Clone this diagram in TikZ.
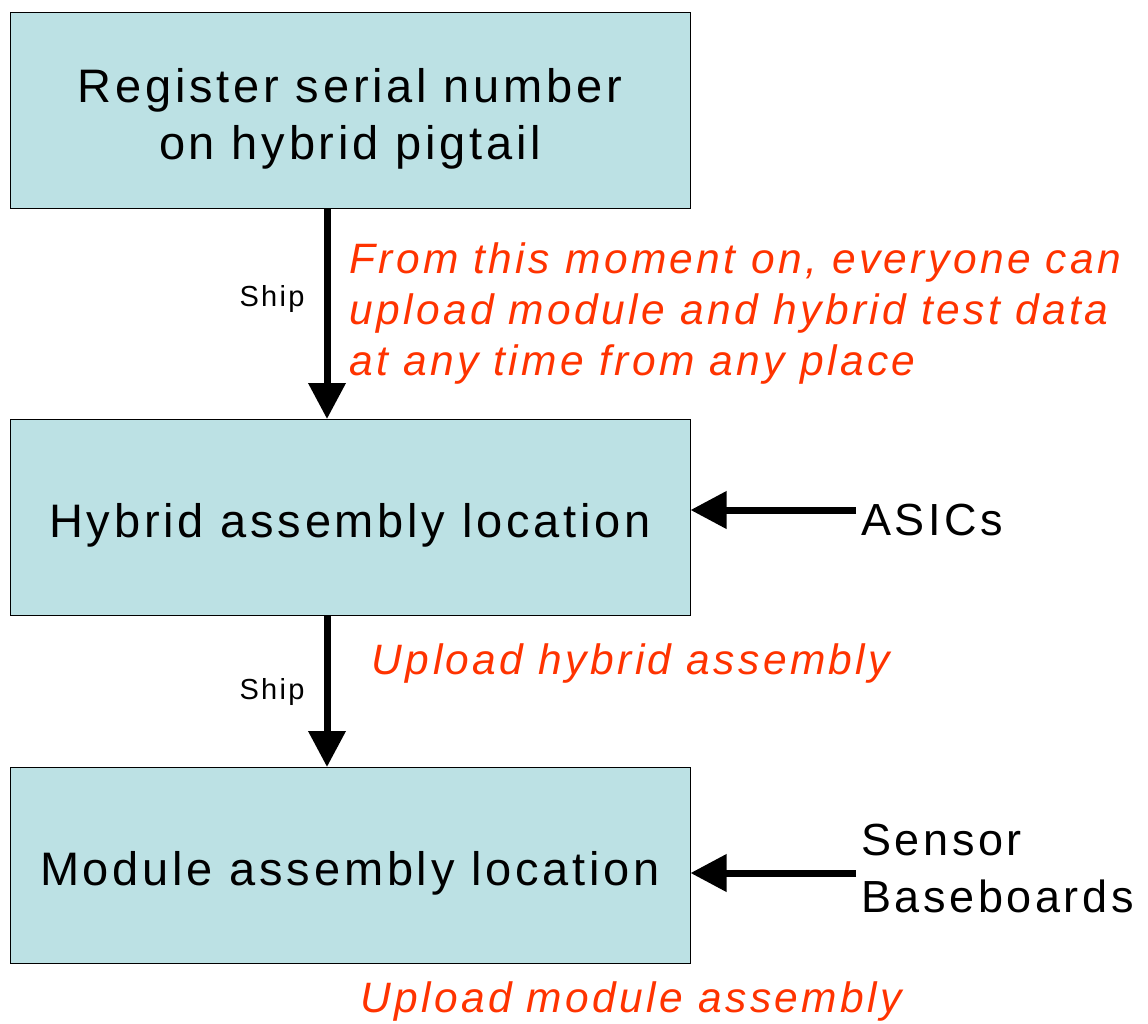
\documentclass[tikz,border=0pt]{standalone}
\usepackage{fontspec}
\setmainfont{Liberation Sans}[LetterSpace=8]
\usetikzlibrary{arrows.meta, positioning}

\definecolor{boxblue}{RGB}{188,225,228}
\definecolor{notered}{RGB}{255,51,0}
\newcommand{\topstrut}{\rule{0pt}{49pt}}

\tikzset{
  stepbox/.style={draw, line width=1pt, fill=boxblue, minimum width=680pt,
    minimum height=196pt, inner sep=0pt, align=center,
    font=\fontsize{47}{57}\selectfont, execute at begin node=\topstrut},
  note/.style={text=notered, inner sep=0pt,
    font=\fontsize{42.5}{51}\selectfont\itshape},
  side/.style={inner sep=0pt, align=left, font=\fontsize{45}{57}\selectfont},
  shiplabel/.style={inner sep=0pt, font=\fontsize{29}{32}\selectfont},
  flow/.style={line width=7pt, -{Triangle[width=36pt,length=36pt]}}
}

\begin{document}
\begin{tikzpicture}[x=1pt, y=-1pt]
  \useasboundingbox (0,0) rectangle (1148,1023);

  % Steps
  \node[stepbox] (register) at (350,110) {\rule{0pt}{52pt}Register serial number\\on hybrid pigtail};
  \node[stepbox] (hybrid) at (350,517.5) {Hybrid assembly location};
  \node[stepbox] (module) at (350,865.5) {Module assembly location};

  % Shipping arrows
  \coordinate (shaft) at (327,0);
  \draw[flow] (register.south -| shaft) -- (hybrid.north -| shaft)
    node[pos=0.43, shiplabel, left=19pt] {Ship};
  \draw[flow] (hybrid.south -| shaft) -- (module.north -| shaft)
    node[midway, shiplabel, left=19pt] {Ship};

  % Notes
  \node[note, anchor=west, align=left] (anytime) at (349,314)
    {From this moment on, everyone can\\upload module and hybrid test data\\at any time from any place};
  \node[note] (uphybrid) at (631,664) {Upload hybrid assembly};
  \node[note] (upmodule) at (631,1001) {Upload module assembly};

  % Incoming parts
  \node[side, anchor=west] (asics) at (861,520) {ASICs};
  \node[side, anchor=west] (sensor) at (861,868) {Sensor\\Baseboards};
  \coordinate (asicsin) at (856,510);
  \coordinate (sensorin) at (856,873);
  \draw[flow] (asicsin) -- (asicsin -| hybrid.east);
  \draw[flow] (sensorin) -- (sensorin -| module.east);
\end{tikzpicture}
\end{document}
